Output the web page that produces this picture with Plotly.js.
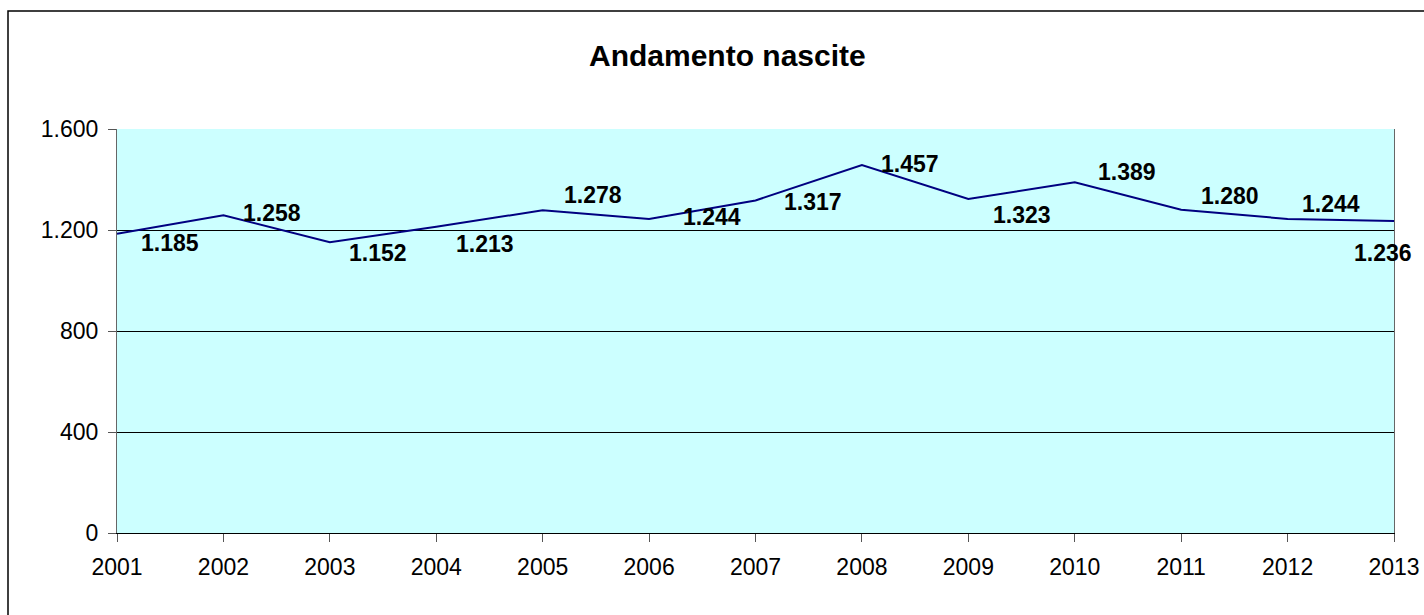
<!DOCTYPE html>
<html>
<head>
<meta charset="utf-8">
<script src="https://cdn.plot.ly/plotly-3.0.1.min.js"></script>
<style>html,body{margin:0;padding:0;background:#fff;}#chart{width:1424px;height:615px;}</style>
</head>
<body>
<div id="chart"></div>
<script>
const years = [2001, 2002, 2003, 2004, 2005, 2006, 2007, 2008, 2009, 2010, 2011, 2012, 2013];
const births = [1185, 1258, 1152, 1213, 1278, 1244, 1317, 1457, 1323, 1389, 1280, 1244, 1236];
const labelText = ['1.185', '1.258', '1.152', '1.213', '1.278', '1.244', '1.317', '1.457', '1.323', '1.389', '1.280', '1.244', '1.236'];
const yTickVals = [0, 400, 800, 1200, 1600];
const yTickText = ['0', '400', '800', '1.200', '1.600'];

// label placement offsets (pixels): right, and up
const labelDx = [53, 49, 48, 49, 50, 63, 57, 48, 54, 52, 49, 43, -11];
const labelDy = [-9, 2, -11, -17, 15, 2, -2, 1, -16, 10, 14, 15, -32];

const annotations = years.map((yr, i) => ({
  x: yr, y: births[i], xref: 'x', yref: 'y',
  text: '<b>' + labelText[i] + '</b>', showarrow: false,
  xshift: labelDx[i], yshift: labelDy[i],
  font: {family: 'Liberation Sans, Arial, sans-serif', size: 23, color: '#000'},
  xanchor: 'center', yanchor: 'middle'
}));
annotations.push({
  text: '<b>Andamento nascite</b>', xref: 'paper', yref: 'paper',
  x: 0.478, y: 1, yshift: 74, showarrow: false, xanchor: 'center', yanchor: 'middle',
  font: {family: 'Liberation Sans, Arial, sans-serif', size: 30, color: '#000'}
});

const trace = {
  x: years, y: births, type: 'scatter', mode: 'lines',
  line: {color: '#000080', width: 2}, hoverinfo: 'x+y', cliponaxis: false
};

const layout = {
  width: 1424, height: 615,
  margin: {l: 117, r: 30, t: 129, b: 82, pad: 0},
  paper_bgcolor: '#ffffff', plot_bgcolor: '#ccffff',
  showlegend: false,
  font: {family: 'Liberation Sans, Arial, sans-serif', size: 23, color: '#000'},
  xaxis: {
    range: [2001, 2013], tickmode: 'array', tickvals: years, ticktext: years.map(String),
    showgrid: false, zeroline: false, showline: true, linecolor: '#000', linewidth: 1,
    ticks: 'outside', ticklen: 8, tickcolor: '#555', tickwidth: 1,
    ticklabelstandoff: 5,
    tickfont: {size: 23}, mirror: false, fixedrange: true
  },
  yaxis: {
    range: [0, 1600], tickmode: 'array', tickvals: yTickVals, ticktext: yTickText,
    showgrid: true, gridcolor: '#000', gridwidth: 1, zeroline: false,
    showline: true, linecolor: '#666', linewidth: 1, mirror: true,
    ticks: 'outside', ticklen: 8, tickcolor: '#555', tickwidth: 1,
    ticklabelstandoff: 5,
    tickfont: {size: 23}, fixedrange: true
  },
  annotations: annotations,
  shapes: [{
    type: 'rect', xref: 'paper', yref: 'paper', layer: 'above',
    x0: -109 / 1277, x1: 1320 / 1277, y0: -90 / 404, y1: 1 + 118 / 404,
    line: {color: '#000', width: 1.5}
  }]
};

Plotly.newPlot('chart', [trace], layout, {displayModeBar: false, staticPlot: true});
</script>
</body>
</html>
